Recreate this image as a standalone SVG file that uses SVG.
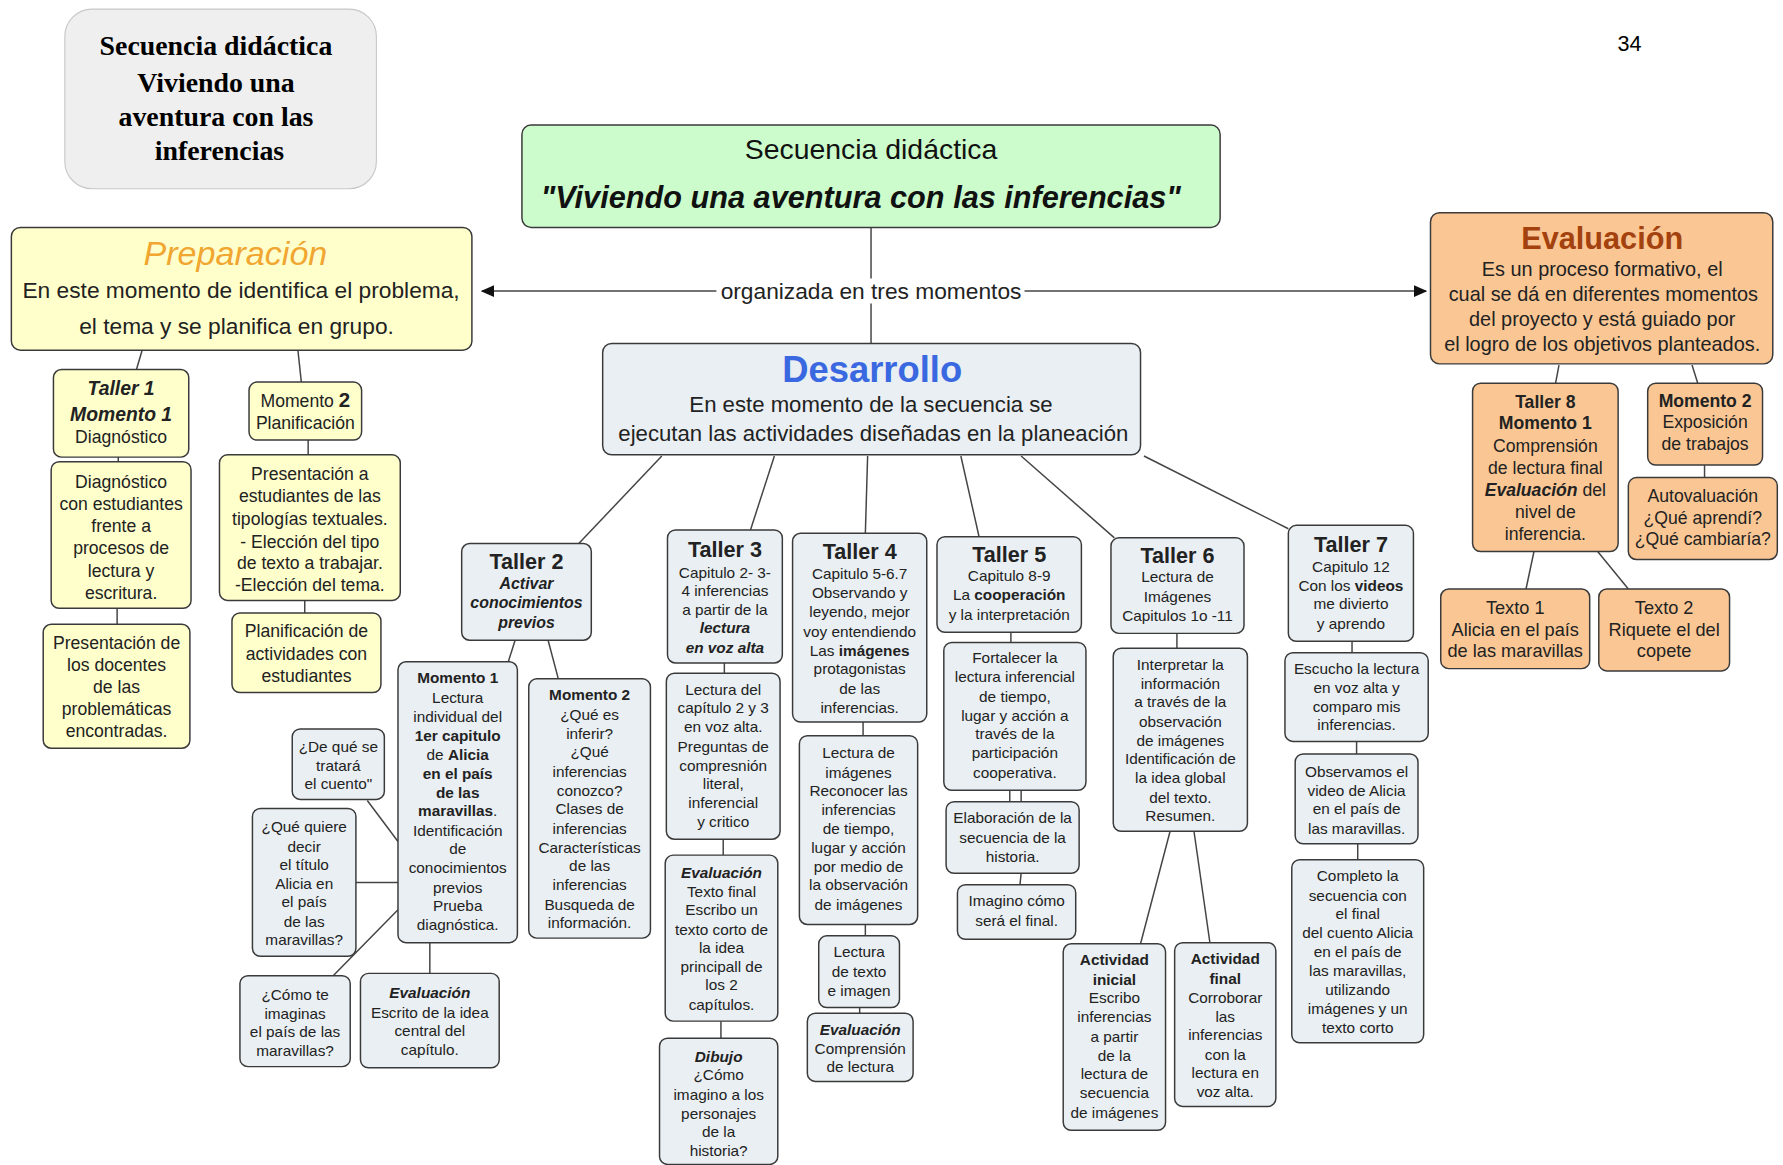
<svg xmlns="http://www.w3.org/2000/svg" width="1783" height="1165" viewBox="0 0 1783 1165">
<defs>
<style>
.n{stroke:#3a3a3a;stroke-width:1.3}
.y{fill:#ffffcc}
.b{fill:#e9eff2}
.o{fill:#fac794}
text{font-family:"Liberation Sans",Arial,sans-serif;fill:#222;text-anchor:middle}
.s{font-size:13.5px}
.m{font-size:15.5px}
.g{font-size:16px}
.h{font-size:19px;font-weight:bold}
.bd{font-weight:bold}
.bi{font-weight:bold;font-style:italic}
.c line,.c path{stroke:#444;stroke-width:1.3;fill:none}
</style>
<marker id="ar" viewBox="0 0 10 10" refX="9" refY="5" markerWidth="9" markerHeight="9" orient="auto"><path d="M0,0.5 L10,5 L0,9.5 z" fill="#111"/></marker>
</defs>
<rect width="1783" height="1165" fill="#ffffff"/>
<g transform="scale(1.13712)">
<g id="connectors" class="c">
<line x1="766" y1="200" x2="766" y2="245"/>
<line x1="766" y1="267" x2="766" y2="302"/>
<path d="M630,256 H424" marker-end="url(#ar)"/>
<path d="M901,256 H1254" marker-end="url(#ar)"/>
<line x1="125" y1="308" x2="120" y2="325"/>
<line x1="262" y1="308" x2="265" y2="336"/>
<line x1="104" y1="402" x2="104" y2="406"/>
<line x1="103" y1="535" x2="103" y2="549"/>
<line x1="271" y1="387" x2="271" y2="400"/>
<line x1="268" y1="528" x2="268" y2="539"/>
<line x1="582" y1="401" x2="509" y2="478"/>
<line x1="681" y1="401" x2="660" y2="466"/>
<line x1="763" y1="401" x2="761" y2="469"/>
<line x1="845" y1="401" x2="861" y2="472"/>
<line x1="898" y1="401" x2="980" y2="473"/>
<line x1="1006" y1="401" x2="1133" y2="465"/>
<line x1="453" y1="563" x2="447" y2="582"/>
<line x1="482" y1="563" x2="491" y2="597"/>
<line x1="323" y1="704" x2="350" y2="740"/>
<line x1="313" y1="776" x2="350" y2="776"/>
<line x1="293" y1="858" x2="350" y2="800"/>
<line x1="378" y1="829" x2="378" y2="856"/>
<line x1="637" y1="583" x2="637" y2="592"/>
<line x1="636" y1="738" x2="636" y2="752"/>
<line x1="634" y1="898" x2="634" y2="913"/>
<line x1="759" y1="635" x2="759" y2="647"/>
<line x1="761" y1="813" x2="761" y2="823"/>
<line x1="756" y1="886" x2="756" y2="891"/>
<line x1="889" y1="556" x2="889" y2="565"/>
<line x1="888" y1="695" x2="888" y2="705"/>
<line x1="898" y1="695" x2="898" y2="705"/>
<line x1="898" y1="768" x2="897" y2="778"/>
<line x1="1035" y1="557" x2="1035" y2="570"/>
<line x1="1029" y1="731" x2="1003" y2="830"/>
<line x1="1050" y1="731" x2="1064" y2="829"/>
<line x1="1189" y1="564" x2="1189" y2="574"/>
<line x1="1193" y1="652" x2="1193" y2="663"/>
<line x1="1194" y1="742" x2="1194" y2="756"/>
<line x1="1371" y1="321" x2="1368" y2="337"/>
<line x1="1488" y1="321" x2="1493" y2="337"/>
<line x1="1499" y1="409" x2="1499" y2="420"/>
<line x1="1349" y1="485" x2="1342" y2="518"/>
<line x1="1405" y1="485" x2="1432" y2="518"/>
</g>
<text x="766" y="263" style="font-size:20px">organizada en tres momentos</text>

<g id="title-box">
<rect x="57" y="8" width="274" height="158" rx="24" fill="#efefef" stroke="#c8c8c8" stroke-width="1"/>
<text style="font-family:'Liberation Serif','Times New Roman',serif;font-size:24.5px;font-weight:bold;fill:#000">
<tspan x="193" y="48">Secuencia didáctica</tspan>
<tspan x="193" y="81">Viviendo una</tspan>
<tspan x="193" y="111">aventura con las</tspan>
<tspan x="193" y="141">inferencias</tspan>
</text>
</g>
<g id="page-number"><text x="1433" y="45" style="font-size:19px;fill:#000">34</text></g>

<g id="main">
<rect class="n" x="459" y="110" width="614" height="90" rx="8" fill="#ccfccc"/>
<text x="766" y="140" style="font-size:25px;fill:#111">Secuencia didáctica</text>
<text x="757" y="183" style="font-size:27px;font-weight:bold;font-style:italic;fill:#111">"Viviendo una aventura con las inferencias"</text>
</g>

<g id="preparacion">
<rect class="n y" x="10" y="200" width="405" height="108" rx="8"/>
<text x="207" y="233" style="font-size:30px;font-style:italic;fill:#f0a630">Preparación</text>
<text style="font-size:20px"><tspan x="212" y="262">En este momento de identifica el problema,</tspan><tspan x="208" y="294">el tema y se planifica en grupo.</tspan></text>
</g>

<g id="evaluacion">
<rect class="n o" x="1258" y="187" width="301" height="133" rx="8"/>
<text x="1409" y="219" style="font-size:27px;font-weight:bold;fill:#a3420f">Evaluación</text>
<text style="font-size:17.5px"><tspan x="1409" y="243">Es un proceso formativo, el</tspan><tspan x="1410" y="265">cual se dá en diferentes momentos</tspan><tspan x="1409" y="287">del proyecto y está guiado por</tspan><tspan x="1409" y="309">el logro de los objetivos planteados.</tspan></text>
</g>

<g id="desarrollo">
<rect class="n b" x="530" y="302" width="473" height="98" rx="8"/>
<text x="767" y="336" style="font-size:32px;font-weight:bold;fill:#3a68e0">Desarrollo</text>
<text style="font-size:19.5px"><tspan x="766" y="362">En este momento de la secuencia se</tspan><tspan x="768" y="388">ejecutan las actividades diseñadas en la planeación</tspan></text>
</g>

<g id="taller1">
<rect class="n y" x="47" y="325" width="119" height="77" rx="7"/>
<text class="bi" style="font-size:17px"><tspan x="106.5" y="347">Taller 1</tspan><tspan x="106.5" y="370">Momento 1</tspan></text>
<text class="m" x="106.5" y="390">Diagnóstico</text>
</g>
<g id="diagnostico">
<rect class="n y" x="45" y="406" width="123" height="129" rx="7"/>
<text class="m"><tspan x="106.5" y="429.5">Diagnóstico</tspan><tspan x="106.5" y="448.5">con estudiantes</tspan><tspan x="106.5" y="467.5">frente a</tspan><tspan x="106.5" y="487.5">procesos de</tspan><tspan x="106.5" y="507.5">lectura y</tspan><tspan x="106.5" y="526.5">escritura.</tspan></text>
</g>
<g id="presentacion-docentes">
<rect class="n y" x="38" y="549" width="129" height="109" rx="7"/>
<text class="m"><tspan x="102.5" y="570.5">Presentación de</tspan><tspan x="102.5" y="590.5">los docentes</tspan><tspan x="102.5" y="609.5">de las</tspan><tspan x="102.5" y="628.5">problemáticas</tspan><tspan x="102.5" y="648.5">encontradas.</tspan></text>
</g>
<g id="momento2-plan">
<rect class="n y" x="219" y="336" width="99" height="51" rx="7"/>
<text class="m"><tspan x="268.5" y="357.5">Momento <tspan class="bd" style="font-size:18px">2</tspan></tspan><tspan x="268.5" y="377.5">Planificación</tspan></text>
</g>
<g id="presentacion-estudiantes">
<rect class="n y" x="193" y="400" width="159" height="128" rx="7"/>
<text class="m"><tspan x="272.5" y="422.5">Presentación a</tspan><tspan x="272.5" y="441.5">estudiantes de las</tspan><tspan x="272.5" y="461.5">tipologías textuales.</tspan><tspan x="272.5" y="481.5">- Elección del tipo</tspan><tspan x="272.5" y="500.5">de texto a trabajar.</tspan><tspan x="272.5" y="519.5">-Elección del tema.</tspan></text>
</g>
<g id="planificacion-actividades">
<rect class="n y" x="204" y="539" width="131" height="70" rx="7"/>
<text class="m"><tspan x="269.5" y="560.5">Planificación de</tspan><tspan x="269.5" y="580.5">actividades  con</tspan><tspan x="269.5" y="599.5">estudiantes</tspan></text>
</g>

<g id="taller2">
<rect class="n b" x="406" y="478" width="114" height="85" rx="7"/>
<text class="h" x="463" y="500">Taller 2</text>
<text class="bi" style="font-size:14px"><tspan x="463" y="518">Activar</tspan><tspan x="463" y="535">conocimientos</tspan><tspan x="463" y="552">previos</tspan></text>
</g>
<g id="t2-momento1">
<rect class="n b" x="350" y="582" width="105" height="247" rx="7"/>
<text class="s"><tspan x="402.5" y="601" class="bd">Momento 1</tspan><tspan x="402.5" y="618">Lectura</tspan><tspan x="402.5" y="635">individual del</tspan><tspan x="402.5" y="652" class="bd">1er capitulo</tspan><tspan x="402.5" y="668">de <tspan class="bd">Alicia</tspan></tspan><tspan x="402.5" y="685" class="bd">en el país</tspan><tspan x="402.5" y="702" class="bd">de las</tspan><tspan x="402.5" y="718"><tspan class="bd">maravillas</tspan>.</tspan><tspan x="402.5" y="735">Identificación</tspan><tspan x="402.5" y="751">de</tspan><tspan x="402.5" y="768">conocimientos</tspan><tspan x="402.5" y="785">previos</tspan><tspan x="402.5" y="801">Prueba</tspan><tspan x="402.5" y="818">diagnóstica.</tspan></text>
</g>
<g id="t2-momento2">
<rect class="n b" x="465" y="597" width="107" height="228" rx="7"/>
<text class="s"><tspan x="518.5" y="616" class="bd">Momento 2</tspan><tspan x="518.5" y="633">¿Qué es</tspan><tspan x="518.5" y="650">inferir?</tspan><tspan x="518.5" y="666">¿Qué</tspan><tspan x="518.5" y="683">inferencias</tspan><tspan x="518.5" y="700">conozco?</tspan><tspan x="518.5" y="716">Clases de</tspan><tspan x="518.5" y="733">inferencias</tspan><tspan x="518.5" y="750">Características</tspan><tspan x="518.5" y="766">de las</tspan><tspan x="518.5" y="783">inferencias</tspan><tspan x="518.5" y="800">Busqueda de</tspan><tspan x="518.5" y="816">información.</tspan></text>
</g>
<g id="de-que-se-tratara">
<rect class="n b" x="257" y="641" width="81" height="62" rx="7"/>
<text class="s"><tspan x="297.5" y="661">¿De qué se</tspan><tspan x="297.5" y="678">tratará</tspan><tspan x="297.5" y="694">el cuento"</tspan></text>
</g>
<g id="que-quiere-decir">
<rect class="n b" x="222" y="711" width="91" height="130" rx="7"/>
<text class="s"><tspan x="267.5" y="732">¿Qué quiere</tspan><tspan x="267.5" y="749">decir</tspan><tspan x="267.5" y="765">el título</tspan><tspan x="267.5" y="782">Alicia en</tspan><tspan x="267.5" y="798">el país</tspan><tspan x="267.5" y="815">de las</tspan><tspan x="267.5" y="831">maravillas?</tspan></text>
</g>
<g id="como-te-imaginas">
<rect class="n b" x="211" y="858" width="97" height="80" rx="7"/>
<text class="s"><tspan x="259.5" y="879">¿Cómo te</tspan><tspan x="259.5" y="896">imaginas</tspan><tspan x="259.5" y="912">el país de las</tspan><tspan x="259.5" y="929">maravillas?</tspan></text>
</g>
<g id="t2-evaluacion">
<rect class="n b" x="317" y="856" width="122" height="83" rx="7"/>
<text class="s"><tspan x="378" y="878" class="bi">Evaluación</tspan><tspan x="378" y="895">Escrito de la  idea</tspan><tspan x="378" y="911">central  del</tspan><tspan x="378" y="928">capítulo.</tspan></text>
</g>

<g id="taller3">
<rect class="n b" x="587" y="466" width="101" height="117" rx="7"/>
<text class="h" x="637.5" y="490">Taller 3</text>
<text class="s"><tspan x="637.5" y="508">Capitulo 2- 3-</tspan><tspan x="637.5" y="524">4 inferencias</tspan><tspan x="637.5" y="541">a partir de la</tspan><tspan x="637.5" y="557" class="bi">lectura</tspan><tspan x="637.5" y="574" class="bi">en voz alta</tspan></text>
</g>
<g id="t3-lectura">
<rect class="n b" x="586" y="592" width="100" height="146" rx="7"/>
<text class="s"><tspan x="636" y="611">Lectura del</tspan><tspan x="636" y="627">capítulo 2 y 3</tspan><tspan x="636" y="644">en voz alta.</tspan><tspan x="636" y="661">Preguntas de</tspan><tspan x="636" y="678">compresnión</tspan><tspan x="636" y="694">literal,</tspan><tspan x="636" y="711">inferencial</tspan><tspan x="636" y="727">y critico</tspan></text>
</g>
<g id="t3-evaluacion">
<rect class="n b" x="585" y="752" width="99" height="146" rx="7"/>
<text class="s"><tspan x="634.5" y="772" class="bi">Evaluación</tspan><tspan x="634.5" y="789">Texto final</tspan><tspan x="634.5" y="805">Escribo un</tspan><tspan x="634.5" y="822">texto corto de</tspan><tspan x="634.5" y="838">la idea</tspan><tspan x="634.5" y="855">principall de</tspan><tspan x="634.5" y="871">los 2</tspan><tspan x="634.5" y="888">capítulos.</tspan></text>
</g>
<g id="t3-dibujo">
<rect class="n b" x="580" y="913" width="104" height="111" rx="7"/>
<text class="s"><tspan x="632" y="934" class="bi">Dibujo</tspan><tspan x="632" y="950">¿Cómo</tspan><tspan x="632" y="967">imagino  a los</tspan><tspan x="632" y="984">personajes</tspan><tspan x="632" y="1000">de la</tspan><tspan x="632" y="1017">historia?</tspan></text>
</g>

<g id="taller4">
<rect class="n b" x="697" y="469" width="118" height="166" rx="7"/>
<text class="h" x="756" y="492">Taller 4</text>
<text class="s"><tspan x="756" y="509">Capitulo 5-6.7</tspan><tspan x="756" y="526">Observando y</tspan><tspan x="756" y="543">leyendo, mejor</tspan><tspan x="756" y="560">voy entendiendo</tspan><tspan x="756" y="577">Las <tspan class="bd">imágenes</tspan></tspan><tspan x="756" y="593">protagonistas</tspan><tspan x="756" y="610">de las</tspan><tspan x="756" y="627">inferencias.</tspan></text>
</g>
<g id="t4-lectura-imagenes">
<rect class="n b" x="703" y="647" width="104" height="166" rx="7"/>
<text class="s"><tspan x="755" y="667">Lectura de</tspan><tspan x="755" y="684">imágenes</tspan><tspan x="755" y="700">Reconocer las</tspan><tspan x="755" y="717">inferencias</tspan><tspan x="755" y="733">de tiempo,</tspan><tspan x="755" y="750">lugar y acción</tspan><tspan x="755" y="767">por medio de</tspan><tspan x="755" y="783">la observación</tspan><tspan x="755" y="800">de  imágenes</tspan></text>
</g>
<g id="t4-lectura-texto">
<rect class="n b" x="720" y="823" width="71" height="63" rx="7"/>
<text class="s"><tspan x="755.5" y="842">Lectura</tspan><tspan x="755.5" y="859">de texto</tspan><tspan x="755.5" y="876">e imagen</tspan></text>
</g>
<g id="t4-evaluacion">
<rect class="n b" x="710" y="891" width="93" height="60" rx="7"/>
<text class="s"><tspan x="756.5" y="910" class="bi">Evaluación</tspan><tspan x="756.5" y="927">Comprensión</tspan><tspan x="756.5" y="943">de lectura</tspan></text>
</g>

<g id="taller5">
<rect class="n b" x="824" y="472" width="127" height="84" rx="7"/>
<text class="h" x="887.5" y="494">Taller 5</text>
<text class="s"><tspan x="887.5" y="511">Capitulo 8-9</tspan><tspan x="887.5" y="528">La <tspan class="bd">cooperación</tspan></tspan><tspan x="887.5" y="545">y la interpretación</tspan></text>
</g>
<g id="t5-fortalecer">
<rect class="n b" x="830" y="565" width="125" height="130" rx="7"/>
<text class="s"><tspan x="892.5" y="583">Fortalecer la</tspan><tspan x="892.5" y="600">lectura inferencial</tspan><tspan x="892.5" y="617">de tiempo,</tspan><tspan x="892.5" y="634">lugar y acción a</tspan><tspan x="892.5" y="650">través de la</tspan><tspan x="892.5" y="667">participación</tspan><tspan x="892.5" y="684">cooperativa.</tspan></text>
</g>
<g id="t5-elaboracion">
<rect class="n b" x="832" y="705" width="117" height="63" rx="7"/>
<text class="s"><tspan x="890.5" y="724">Elaboración de la</tspan><tspan x="890.5" y="741">secuencia de la</tspan><tspan x="890.5" y="758">historia.</tspan></text>
</g>
<g id="t5-imagino">
<rect class="n b" x="842" y="778" width="104" height="48" rx="7"/>
<text class="s"><tspan x="894" y="797">Imagino cómo</tspan><tspan x="894" y="814">será el final.</tspan></text>
</g>

<g id="taller6">
<rect class="n b" x="977" y="473" width="117" height="84" rx="7"/>
<text class="h" x="1035.5" y="495">Taller 6</text>
<text class="s"><tspan x="1035.5" y="512">Lectura de</tspan><tspan x="1035.5" y="529">Imágenes</tspan><tspan x="1035.5" y="546">Capitulos  1o -11</tspan></text>
</g>
<g id="t6-interpretar">
<rect class="n b" x="979" y="570" width="118" height="161" rx="7"/>
<text class="s"><tspan x="1038" y="589">Interpretar la</tspan><tspan x="1038" y="606">información</tspan><tspan x="1038" y="622">a través de la</tspan><tspan x="1038" y="639">observación</tspan><tspan x="1038" y="656">de imágenes</tspan><tspan x="1038" y="672">Identificación de</tspan><tspan x="1038" y="689">la idea global</tspan><tspan x="1038" y="706">del texto.</tspan><tspan x="1038" y="722">Resumen.</tspan></text>
</g>
<g id="t6-actividad-inicial">
<rect class="n b" x="935" y="830" width="90" height="164" rx="7"/>
<text class="s"><tspan x="980" y="849" class="bd">Actividad</tspan><tspan x="980" y="866" class="bd">inicial</tspan><tspan x="980" y="882">Escribo</tspan><tspan x="980" y="899">inferencias</tspan><tspan x="980" y="916">a partir</tspan><tspan x="980" y="933">de la</tspan><tspan x="980" y="949">lectura de</tspan><tspan x="980" y="966">secuencia</tspan><tspan x="980" y="983">de imágenes</tspan></text>
</g>
<g id="t6-actividad-final">
<rect class="n b" x="1033" y="829" width="89" height="144" rx="7"/>
<text class="s"><tspan x="1077.5" y="848" class="bd">Actividad</tspan><tspan x="1077.5" y="865" class="bd">final</tspan><tspan x="1077.5" y="882">Corroborar</tspan><tspan x="1077.5" y="899">las</tspan><tspan x="1077.5" y="915">inferencias</tspan><tspan x="1077.5" y="932">con la</tspan><tspan x="1077.5" y="948">lectura en</tspan><tspan x="1077.5" y="965">voz alta.</tspan></text>
</g>

<g id="taller7">
<rect class="n b" x="1133" y="462" width="110" height="102" rx="7"/>
<text class="h" x="1188" y="485">Taller 7</text>
<text class="s"><tspan x="1188" y="503">Capitulo 12</tspan><tspan x="1188" y="520">Con los <tspan class="bd">videos</tspan></tspan><tspan x="1188" y="536">me divierto</tspan><tspan x="1188" y="553">y aprendo</tspan></text>
</g>
<g id="t7-escucho">
<rect class="n b" x="1130" y="574" width="126" height="78" rx="7"/>
<text class="s"><tspan x="1193" y="593">Escucho la lectura</tspan><tspan x="1193" y="609">en voz alta y</tspan><tspan x="1193" y="626">comparo mis</tspan><tspan x="1193" y="642">inferencias.</tspan></text>
</g>
<g id="t7-observamos">
<rect class="n b" x="1139" y="663" width="108" height="79" rx="7"/>
<text class="s"><tspan x="1193" y="683">Observamos el</tspan><tspan x="1193" y="700">video de Alicia</tspan><tspan x="1193" y="716">en el país de</tspan><tspan x="1193" y="733">las maravillas.</tspan></text>
</g>
<g id="t7-completo">
<rect class="n b" x="1136" y="756" width="116" height="161" rx="7"/>
<text class="s"><tspan x="1194" y="775">Completo la</tspan><tspan x="1194" y="792">secuencia con</tspan><tspan x="1194" y="808">el final</tspan><tspan x="1194" y="825">del cuento Alicia</tspan><tspan x="1194" y="842">en el país de</tspan><tspan x="1194" y="858">las maravillas,</tspan><tspan x="1194" y="875">utilizando</tspan><tspan x="1194" y="892">imágenes y un</tspan><tspan x="1194" y="908">texto corto</tspan></text>
</g>

<g id="taller8">
<rect class="n o" x="1295" y="337" width="128" height="148" rx="7"/>
<text class="m"><tspan x="1359" y="358.5" class="bd">Taller 8</tspan><tspan x="1359" y="377.5" class="bd">Momento 1</tspan><tspan x="1359" y="397.5">Comprensión</tspan><tspan x="1359" y="416.5">de  lectura final</tspan><tspan x="1359" y="436.5"><tspan class="bi">Evaluación</tspan>  del</tspan><tspan x="1359" y="455.5">nivel de</tspan><tspan x="1359" y="474.5">inferencia.</tspan></text>
</g>
<g id="e-momento2">
<rect class="n o" x="1449" y="337" width="101" height="72" rx="7"/>
<text class="m"><tspan x="1499.5" y="357.5" class="bd">Momento 2</tspan><tspan x="1499.5" y="376.5">Exposición</tspan><tspan x="1499.5" y="395.5">de trabajos</tspan></text>
</g>
<g id="e-autovaluacion">
<rect class="n o" x="1432" y="420" width="131" height="72" rx="7"/>
<text class="m"><tspan x="1497.5" y="441.5">Autovaluación</tspan><tspan x="1497.5" y="460.5">¿Qué aprendí?</tspan><tspan x="1497.5" y="479.5">¿Qué cambiaría?</tspan></text>
</g>
<g id="e-texto1">
<rect class="n o" x="1267" y="518" width="131" height="70" rx="7"/>
<text class="g"><tspan x="1332.5" y="540">Texto 1</tspan><tspan x="1332.5" y="559">Alicia en el país</tspan><tspan x="1332.5" y="578">de las maravillas</tspan></text>
</g>
<g id="e-texto2">
<rect class="n o" x="1406" y="518" width="115" height="72" rx="7"/>
<text class="g"><tspan x="1463.5" y="540">Texto 2</tspan><tspan x="1463.5" y="559">Riquete el del</tspan><tspan x="1463.5" y="578">copete</tspan></text>
</g>
</g>
</svg>
